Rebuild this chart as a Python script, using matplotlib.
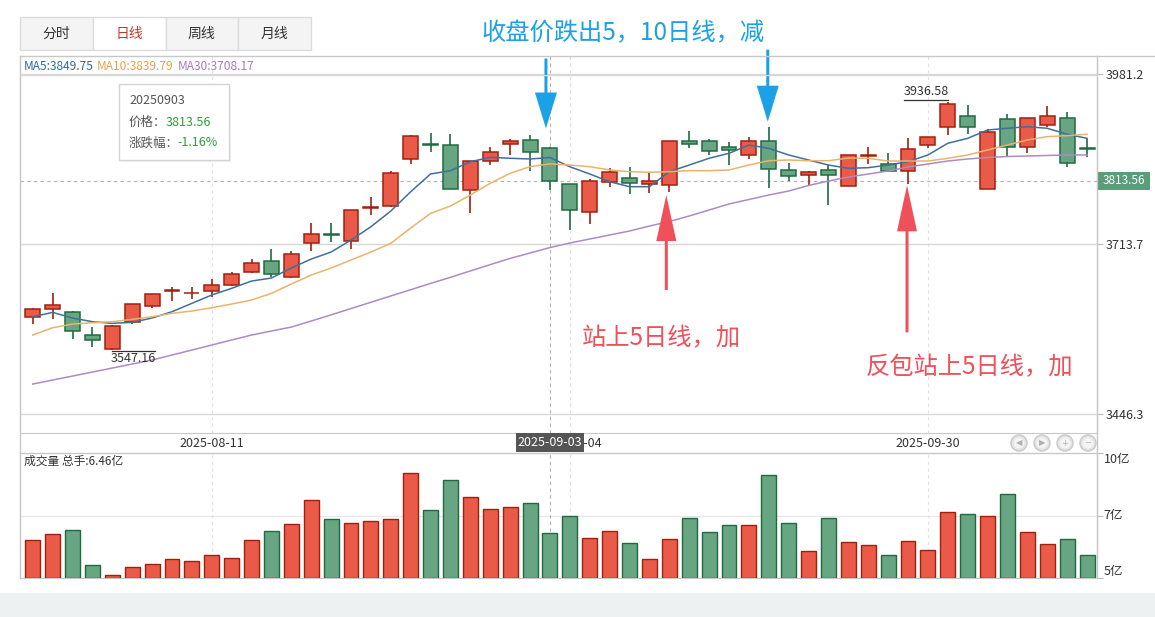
import matplotlib
matplotlib.use('Agg')
import matplotlib.pyplot as plt
from matplotlib.patches import Rectangle, Circle, FancyArrow
from matplotlib.transforms import blended_transform_factory

plt.rcParams['font.family'] = ['Noto Sans CJK SC', 'DejaVu Sans']

# ---------------- data ----------------
dates = ['2025-07-29', '2025-07-30', '2025-07-31', '2025-08-01', '2025-08-04', '2025-08-05',
         '2025-08-06', '2025-08-07', '2025-08-08', '2025-08-11', '2025-08-12', '2025-08-13',
         '2025-08-14', '2025-08-15', '2025-08-18', '2025-08-19', '2025-08-20', '2025-08-21',
         '2025-08-22', '2025-08-25', '2025-08-26', '2025-08-27', '2025-08-28', '2025-08-29',
         '2025-09-01', '2025-09-02', '2025-09-03', '2025-09-04', '2025-09-05', '2025-09-08',
         '2025-09-09', '2025-09-10', '2025-09-11', '2025-09-12', '2025-09-15', '2025-09-16',
         '2025-09-17', '2025-09-18', '2025-09-19', '2025-09-22', '2025-09-23', '2025-09-24',
         '2025-09-25', '2025-09-26', '2025-09-29', '2025-09-30', '2025-10-09', '2025-10-10',
         '2025-10-13', '2025-10-14', '2025-10-15', '2025-10-16', '2025-10-17', '2025-10-20']

opens = [3598.8, 3611.0, 3606.2, 3570.5, 3549.0, 3590.5, 3616.6, 3639.3, 3636.0, 3639.8,
         3648.7, 3669.2, 3687.0, 3661.3, 3714.8, 3729.4, 3718.1, 3770.4, 3773.0, 3847.9,
         3871.1, 3869.0, 3798.2, 3843.8, 3870.6, 3876.9, 3864.3, 3807.6, 3763.6, 3811.7,
         3817.1, 3807.6, 3807.0, 3875.3, 3875.3, 3865.9, 3853.3, 3875.3, 3829.7, 3821.8,
         3829.7, 3805.0, 3852.2, 3839.1, 3829.1, 3869.0, 3898.3, 3914.7, 3800.7, 3909.9,
         3866.8, 3900.5, 3911.5, 3864.3]
highs = [3613.5, 3636.1, 3608.8, 3582.6, 3586.5, 3619.5, 3635.3, 3645.6, 3645.6, 3658.2,
         3669.7, 3689.6, 3705.4, 3702.7, 3746.3, 3746.3, 3767.5, 3787.2, 3828.0, 3884.5,
         3887.9, 3886.8, 3844.5, 3866.8, 3878.5, 3884.8, 3867.1, 3808.5, 3816.0, 3832.8,
         3834.4, 3825.9, 3876.0, 3892.0, 3878.5, 3874.7, 3881.6, 3898.3, 3841.6, 3828.6,
         3838.0, 3854.0, 3865.9, 3856.4, 3880.0, 3882.3, 3936.58, 3932.0, 3895.1, 3917.8,
         3912.2, 3930.4, 3920.9, 3878.5]
lows = [3587.8, 3595.2, 3563.8, 3551.6, 3547.16, 3587.4, 3613.5, 3623.6, 3626.7, 3629.9,
        3647.6, 3667.6, 3662.3, 3659.7, 3703.2, 3717.5, 3705.8, 3759.3, 3772.0, 3839.1,
        3858.9, 3800.0, 3762.0, 3838.5, 3853.8, 3828.6, 3798.7, 3735.7, 3744.7, 3802.9,
        3791.9, 3793.5, 3795.5, 3865.2, 3854.2, 3837.5, 3847.9, 3801.4, 3812.8, 3807.3,
        3775.1, 3804.3, 3840.1, 3827.5, 3807.6, 3865.2, 3884.8, 3886.8, 3799.8, 3850.1,
        3856.4, 3898.3, 3834.4, 3850.6]
closes = [3611.0, 3617.3, 3576.3, 3562.2, 3584.7, 3618.8, 3634.6, 3641.3, 3636.6, 3648.7,
          3666.0, 3683.3, 3667.0, 3697.7, 3729.0, 3728.3, 3766.8, 3771.5, 3825.0, 3883.7,
          3869.0, 3800.7, 3843.8, 3858.0, 3875.3, 3858.13, 3813.56, 3766.7, 3812.8, 3827.0,
          3809.2, 3812.3, 3875.3, 3870.6, 3860.5, 3862.1, 3875.3, 3831.3, 3820.2, 3827.8,
          3821.8, 3853.3, 3853.3, 3828.1, 3862.7, 3881.6, 3933.5, 3897.3, 3889.5, 3865.9,
          3911.5, 3914.7, 3840.7, 3863.2]
volumes = [6.14, 6.40, 6.57, 5.06, 4.62, 4.98, 5.10, 5.32, 5.23, 5.49,
           5.36, 6.14, 6.53, 6.83, 7.87, 7.05, 6.88, 6.96, 7.05, 9.04,
           7.44, 8.73, 8.00, 7.48, 7.57, 7.74, 6.46, 7.18, 6.23, 6.53,
           6.01, 5.32, 6.18, 7.09, 6.49, 6.79, 6.79, 8.95, 6.88, 5.67,
           7.09, 6.06, 5.93, 5.49, 6.10, 5.71, 7.35, 7.26, 7.18, 8.13,
           6.49, 5.97, 6.18, 5.49]
ma5 = [3599.3, 3606.2, 3597.3, 3591.5, 3588.9, 3590.5, 3597.3, 3607.2, 3620.4, 3633.5,
       3644.0, 3655.5, 3660.2, 3676.0, 3690.1, 3701.1, 3720.0, 3740.9, 3765.6, 3796.0,
       3823.9, 3829.1, 3843.2, 3850.1, 3848.6, 3847.5, 3849.75, 3835.3, 3823.9, 3811.7,
       3803.9, 3803.9, 3827.5, 3838.0, 3848.6, 3856.4, 3869.5, 3864.3, 3853.8, 3845.9,
       3838.0, 3832.8, 3833.8, 3838.0, 3843.2, 3853.8, 3872.2, 3880.0, 3893.1, 3895.8,
       3898.3, 3895.8, 3886.4, 3880.0]
ma10 = [3570.5, 3582.0, 3587.8, 3589.9, 3591.5, 3595.2, 3599.3, 3604.7, 3608.3, 3613.5,
        3619.3, 3625.6, 3636.1, 3650.8, 3664.9, 3675.9, 3688.5, 3701.1, 3714.8, 3738.9,
        3762.0, 3773.5, 3790.8, 3809.2, 3825.0, 3835.4, 3839.79, 3838.0, 3835.4, 3830.2,
        3827.5, 3826.6, 3827.5, 3829.1, 3829.1, 3830.2, 3838.0, 3844.8, 3845.9, 3844.8,
        3844.8, 3849.0, 3848.6, 3844.3, 3844.3, 3844.3, 3848.6, 3853.8, 3861.7, 3869.5,
        3877.4, 3882.7, 3884.2, 3886.4]
ma30 = [3493.4, 3499.7, 3506.0, 3512.3, 3518.6, 3524.9, 3531.2, 3539.1, 3546.9, 3554.8,
        3562.7, 3570.5, 3576.9, 3583.1, 3592.6, 3602.3, 3612.2, 3622.1, 3632.0, 3641.8,
        3651.7, 3661.4, 3671.4, 3681.3, 3691.1, 3699.6, 3708.17, 3715.3, 3721.6, 3727.9,
        3734.2, 3742.0, 3749.1, 3757.8, 3767.2, 3776.7, 3783.7, 3790.8, 3797.1, 3805.8,
        3812.8, 3819.1, 3823.9, 3828.6, 3834.9, 3839.6, 3844.3, 3847.5, 3849.9, 3851.4,
        3852.2, 3853.0, 3853.8, 3853.8]

price_ticks = [3446.3, 3713.7, 3981.2]
vol_ticks = [4.5, 7.2, 9.9]
vol_tick_labels = ['5亿', '7亿', '10亿']
date_tick_labels = ['2025-08-11', '2025-09-04', '2025-09-30']
tabs = ['分时', '日线', '周线', '月线']
focus = 26                      # crosshair day (2025-09-03)
blue_marks = [26, 37]           # 减 signals
red_marks = [32, 44]            # 加 signals

# ---------------- layout ----------------
W, H = 1155, 617
fig = plt.figure(figsize=(W / 100, H / 100), dpi=100)
fig.patch.set_facecolor('white')


def rect(x0, y0, x1, y1):
    return [x0 / W, 1 - y1 / H, (x1 - x0) / W, (y1 - y0) / H]


UP_FILL, UP_EDGE = '#ea5a48', '#a0200f'
DN_FILL, DN_EDGE = '#67a583', '#1f6b3f'
GRID = '#d8d8d8'
BORDER = '#c8c8c8'

ax = fig.add_axes(rect(20, 56, 1097, 433))
vax = fig.add_axes(rect(20, 453, 1097, 578))
n = len(dates)
xs = list(range(n))
xl = (-0.64, 53.5)
s = (price_ticks[2] - price_ticks[0]) / (414 - 74)
ax.set_xlim(*xl)
ax.set_ylim(price_ticks[0] - (433 - 414) * s, price_ticks[2] + (74 - 56) * s)
vax.set_xlim(*xl)
vax.set_ylim(vol_ticks[0], vol_ticks[2])

# candles
bw = 0.75
for i in xs:
    o, h, l, c = opens[i], highs[i], lows[i], closes[i]
    up = c >= o
    fc, ec = (UP_FILL, UP_EDGE) if up else (DN_FILL, DN_EDGE)
    ax.vlines(i, l, h, color=ec, lw=1.2, zorder=2)
    bot = min(o, c)
    ht = max(abs(c - o), 0.4)
    ax.add_patch(Rectangle((i - bw / 2, bot), bw, ht, facecolor=fc, edgecolor=ec,
                           lw=1.1, zorder=3))
    vax.bar(i, volumes[i] - vol_ticks[0], bottom=vol_ticks[0], width=bw,
            color=fc, edgecolor=ec, lw=1.0, zorder=3)

ax.plot(xs, ma5, color='#3f6f9c', lw=1.1, zorder=4)
ax.plot(xs, ma10, color='#e9b46c', lw=1.1, zorder=4)
ax.plot(xs, ma30, color='#ad8bc4', lw=1.1, zorder=4)

# axes styling
date_idx = [dates.index(d) for d in date_tick_labels]
for a in (ax, vax):
    for sp in a.spines.values():
        sp.set_color(BORDER)
    a.spines['top'].set_visible(False)
    a.set_xticks(date_idx)
    a.grid(axis='x', color='#e2e2e2', lw=0.8, linestyle=(0, (3, 3)))
    a.set_axisbelow(True)
    a.axvline(focus, color='#b0b0b0', lw=0.8, linestyle=(0, (3, 3)), zorder=1)

ax.set_yticks(price_ticks)
ax.set_yticklabels([f'{v:.1f}' for v in price_ticks])
ax.yaxis.tick_right()
ax.tick_params(axis='y', length=4, color='#bbbbbb', labelcolor='#333333', labelsize=9, pad=2)
ax.grid(axis='y', color=GRID, lw=1)
ax.set_xticklabels(date_tick_labels)
ax.tick_params(axis='x', length=0, labelsize=9, labelcolor='#333333', pad=3)
ax.axhline(closes[focus], color='#b0b0b0', lw=0.8, linestyle=(0, (3, 3)), zorder=1)

vax.set_yticks(vol_ticks)
vax.set_yticklabels([])
vax.yaxis.tick_right()
vax.tick_params(axis='y', length=4, color='#bbbbbb')
vax.set_xticklabels([])
vax.tick_params(axis='x', length=0)
vax.axhline(vol_ticks[1], color='#e6e6e6', lw=0.8, zorder=0)
bt = blended_transform_factory(vax.transAxes, vax.transData)
for v, lab, va in zip(vol_ticks, vol_tick_labels, ['bottom', 'center', 'top']):
    vax.text(1.006, v, lab, transform=bt, ha='left', va=va, fontsize=9, color='#333333')

# ---------------- overlay ----------------
ov = fig.add_axes([0, 0, 1, 1], zorder=10)
ov.set_xlim(0, W)
ov.set_ylim(H, 0)
ov.axis('off')
ov.patch.set_alpha(0)


def px(a, x, y):
    d = a.transData.transform((x, y))
    return d[0], H - d[1]


# bottom gray band
ov.add_patch(Rectangle((0, 593), W, H - 593, facecolor='#edf1f2', edgecolor='none'))

# tabs
tx0, tw = 20, 72.75
for k, t in enumerate(tabs):
    x0 = tx0 + k * tw
    active = (t == '日线')
    ov.add_patch(Rectangle((x0, 17), tw, 33, facecolor='white' if active else '#f4f4f4',
                           edgecolor='#dcdcdc', lw=1))
    ov.text(x0 + tw / 2, 34, t, ha='center', va='center', fontsize=10,
            color='#c0392b' if active else '#333333')

# panel frame lines
ov.plot([20, W], [56, 56], color=BORDER, lw=1)
ov.plot([20, 20], [56, 578], color=BORDER, lw=1)
ov.plot([1097, 1097], [56, 578], color=BORDER, lw=1)
ov.plot([20, 1097], [74.5, 74.5], color=GRID, lw=1)

# MA legend
leg = [('MA5', ma5[focus], '#2f6a9e', 24), ('MA10', ma10[focus], '#e3a34a', 97),
       ('MA30', ma30[focus], '#a37dbd', 178)]
for name, val, col, x0 in leg:
    ov.text(x0, 66, f'{name}:{val:.2f}', ha='left', va='center', fontsize=8.6, color=col)

# volume title
ov.text(24, 461, f'成交量 总手:{volumes[focus]:.2f}亿', ha='left', va='center',
        fontsize=8.5, color='#333333')

# tooltip
ov.add_patch(Rectangle((121, 86), 110, 76, facecolor='#e8e8e8', edgecolor='none', alpha=0.6))
ov.add_patch(Rectangle((119, 84), 110, 76, facecolor='white', edgecolor='#d4d4d4', lw=1))
chg = (closes[focus] / closes[focus - 1] - 1) * 100
ov.text(129, 100, dates[focus].replace('-', ''), ha='left', va='center', fontsize=9, color='#555555')
ov.text(129, 122, '价格：', ha='left', va='center', fontsize=9, color='#555555')
ov.text(166, 122, f'{closes[focus]:.2f}', ha='left', va='center', fontsize=9, color='#2e9c3a')
ov.text(129, 143, '涨跌幅：', ha='left', va='center', fontsize=9, color='#555555')
ov.text(177, 143, f'{chg:.2f}%', ha='left', va='center', fontsize=9, color='#2e9c3a')

# crosshair labels
fx, fy = px(ax, focus, closes[focus])
ov.add_patch(Rectangle((1098, fy - 9), 52, 18, facecolor='#5a9d78', edgecolor='none'))
ov.text(1124, fy, f'{closes[focus]:.2f}', ha='center', va='center', fontsize=8.5, color='white')
ov.add_patch(Rectangle((fx - 34, 433), 68, 19, facecolor='#555555', edgecolor='none'))
ov.text(fx, 442.5, dates[focus], ha='center', va='center', fontsize=9, color='white')
ov.plot([20, 1097], [453, 453], color=BORDER, lw=1)

# nav buttons
for k, g in enumerate(['◀', '▶', '+', '−']):
    cx = 1019 + 23 * k
    ov.add_patch(Circle((cx, 443), 8, facecolor='#e4e4e4', edgecolor='#c9c9c9', lw=1))
    ov.add_patch(Circle((cx, 443), 5.5, facecolor='#f4f4f4', edgecolor='none'))
    ov.text(cx, 443, g, ha='center', va='center', fontsize=6, color='#b0b0b0',
            family='DejaVu Sans')

# high / low labels
hi = highs.index(max(highs))
lo = lows.index(min(lows))
hx, hy = px(ax, hi, highs[hi])
ov.plot([hx - 44, hx], [hy - 2, hy - 2], color='#333333', lw=0.9)
ov.text(hx - 22, hy - 4, f'{highs[hi]:.2f}', ha='center', va='bottom', fontsize=9, color='#333333')
lx, ly = px(ax, lo, lows[lo])
ov.plot([lx, lx + 43], [ly + 1.5, ly + 1.5], color='#333333', lw=0.9)
ov.text(lx + 21, ly + 2.5, f'{lows[lo]:.2f}', ha='center', va='top', fontsize=9, color='#333333')

# annotations
BLUE = '#1ba1e6'
RED = '#f0505a'
b_tips = [(-4, -18, 70), (-1, -5, 72)]
for i, (dx, dy, ln) in zip(blue_marks, b_tips):
    x, y = px(ax, i, highs[i])
    ov.add_patch(FancyArrow(x + dx, y + dy - ln, 0, ln, width=3, head_width=22, head_length=36,
                            length_includes_head=True, color=BLUE, lw=0))
r_tips = [(-3, 3, 95), (-1, 1, 147)]
for i, (dx, dy, ln) in zip(red_marks, r_tips):
    x, y = px(ax, i, lows[i])
    ov.add_patch(FancyArrow(x + dx, y + dy + ln, 0, -ln, width=3, head_width=20, head_length=46,
                            length_includes_head=True, color=RED, lw=0))

ov.text(623, 33, '收盘价跌出5，10日线，减', ha='center', va='center', fontsize=17.5, color=BLUE)
ov.text(661, 338, '站上5日线，加', ha='center', va='center', fontsize=17.5, color=RED)
ov.text(969, 367, '反包站上5日线，加', ha='center', va='center', fontsize=17.5, color=RED)

fig.savefig('out.png', dpi=100)
